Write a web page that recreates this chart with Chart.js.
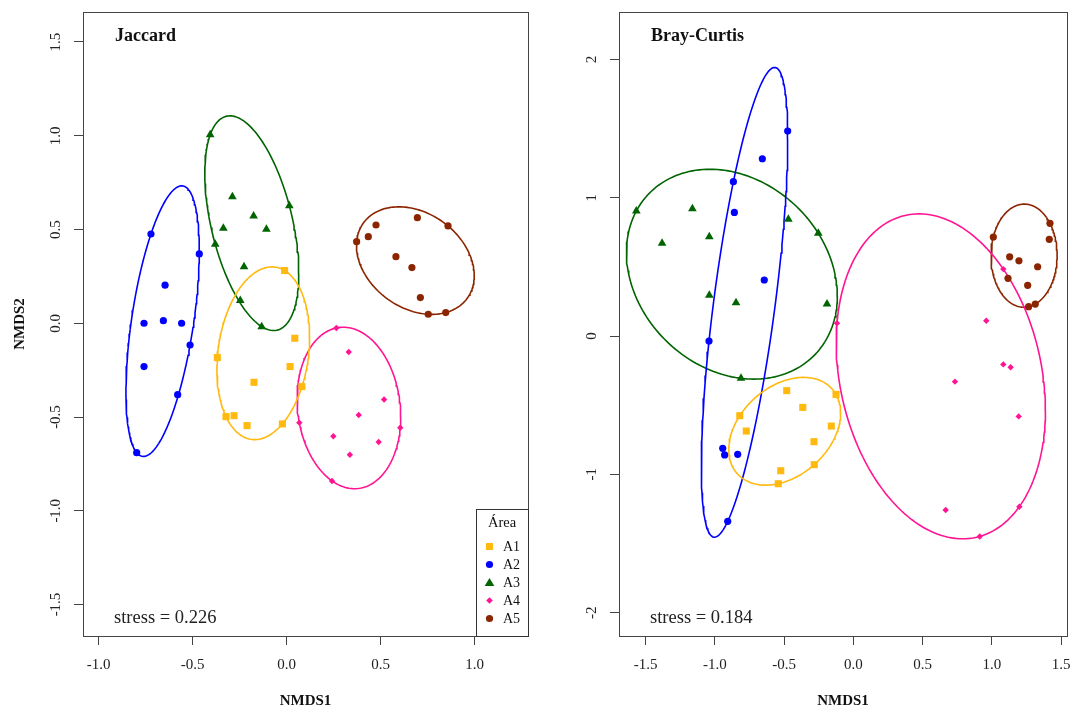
<!DOCTYPE html>
<html>
<head>
<meta charset="utf-8">
<script src="https://cdn.jsdelivr.net/npm/chart.js@4/dist/chart.umd.min.js"></script>
<style>
  body { margin: 0; background: #fff; }
  #wrap { position: relative; width: 1075px; height: 709px; }
  canvas { position: absolute; top: 0; }
  #left { left: 0; }
  #right { left: 540px; }
</style>
</head>
<body>
<div id="wrap">
  <canvas id="left" width="540" height="709"></canvas>
  <canvas id="right" width="535" height="709"></canvas>
</div>
<script>
// groups: [NMDS1, NMDS2]
const groups = ['A1', 'A2', 'A3', 'A4', 'A5'];
const groupColors = ['#FFB90F', '#0000FF', '#006400', '#FF1493', '#8B2500'];
const groupShapes = ['rect', 'circle', 'triangle', 'rectRot', 'circle'];

const jaccardA1 = [[-0.011,0.281],[0.043,-0.080],[-0.369,-0.183],[0.018,-0.231],[-0.174,-0.315],
                   [0.081,-0.338],[-0.323,-0.498],[-0.280,-0.493],[-0.211,-0.546],[-0.023,-0.537]];
const jaccardA2 = [[-0.722,0.476],[-0.465,0.370],[-0.647,0.203],[-0.759,0.000],[-0.656,0.014],
                   [-0.559,0.000],[-0.514,-0.116],[-0.759,-0.231],[-0.580,-0.381],[-0.798,-0.690]];
const jaccardA3 = [[-0.407,1.005],[-0.289,0.675],[-0.176,0.572],[-0.337,0.507],[-0.108,0.501],
                   [0.014,0.627],[-0.380,0.421],[-0.227,0.302],[-0.247,0.121],[-0.133,-0.018]];
const jaccardA4 = [[0.264,-0.025],[0.330,-0.153],[0.518,-0.407],[0.383,-0.489],[0.067,-0.530],
                   [0.604,-0.557],[0.248,-0.603],[0.489,-0.633],[0.336,-0.701],[0.241,-0.841]];
const jaccardA5 = [[0.372,0.435],[0.434,0.462],[0.475,0.524],[0.695,0.563],[0.858,0.519],
                   [0.581,0.355],[0.666,0.297],[0.711,0.137],[0.753,0.048],[0.846,0.057]];

const brayA1 = [[-0.481,-0.395],[-0.125,-0.422],[-0.365,-0.516],[-0.820,-0.576],[-0.773,-0.687],
                [-0.159,-0.651],[-0.284,-0.764],[-0.282,-0.930],[-0.524,-0.974],[-0.542,-1.068]];
const brayA2 = [[-0.474,1.482],[-0.657,1.282],[-0.866,1.116],[-0.859,0.894],[-0.643,0.405],
                [-1.042,-0.036],[-0.943,-0.812],[-0.929,-0.860],[-0.835,-0.855],[-0.907,-1.340]];
const brayA3 = [[-1.567,0.904],[-1.162,0.920],[-1.381,0.670],[-1.040,0.718],[-0.469,0.844],
                [-0.253,0.743],[-1.040,0.294],[-0.847,0.241],[-0.190,0.231],[-0.811,-0.306]];
const brayA4 = [[-0.118,0.092],[0.960,0.111],[1.083,0.484],[1.083,-0.205],[1.136,-0.226],
                [0.734,-0.330],[1.194,-0.581],[0.667,-1.258],[1.199,-1.234],[0.913,-1.449]];
const brayA5 = [[1.420,0.815],[1.011,0.716],[1.415,0.699],[1.129,0.573],[1.196,0.544],
                [1.331,0.501],[1.117,0.417],[1.259,0.367],[1.314,0.231],[1.266,0.212]];

const jaccardXTicks = [-1.0, -0.5, 0.0, 0.5, 1.0];
const jaccardYTicks = [-1.5, -1.0, -0.5, 0.0, 0.5, 1.0, 1.5];
const brayXTicks = [-1.5, -1.0, -0.5, 0.0, 0.5, 1.0, 1.5];
const brayYTicks = [-2, -1, 0, 1, 2];

const SERIF = '"Liberation Serif", "DejaVu Serif", serif';

function inv3(m) {
  const [a, b, c] = m[0], [d, e, f] = m[1], [g, h, i] = m[2];
  const A = e*i - f*h, B = -(d*i - f*g), C = d*h - e*g;
  const det = a*A + b*B + c*C;
  return [
    [A/det, -(b*i - c*h)/det, (b*f - c*e)/det],
    [B/det, (a*i - c*g)/det, -(a*f - c*d)/det],
    [C/det, -(a*h - b*g)/det, (a*e - b*d)/det]
  ];
}

// minimum volume enclosing ellipse (Khachiyan), like ordiellipse(kind = "ehull")
function ehull(pts) {
  const n = pts.length;
  let u = new Array(n).fill(1 / n);
  for (let it = 0; it < 20000; it++) {
    const X = [[0,0,0],[0,0,0],[0,0,0]];
    pts.forEach((p, k) => {
      const q = [p[0], p[1], 1];
      for (let a = 0; a < 3; a++) for (let b = 0; b < 3; b++) X[a][b] += u[k] * q[a] * q[b];
    });
    const Xi = inv3(X);
    let best = -1, j = 0;
    pts.forEach((p, k) => {
      const q = [p[0], p[1], 1];
      let m = 0;
      for (let a = 0; a < 3; a++) for (let b = 0; b < 3; b++) m += q[a] * Xi[a][b] * q[b];
      if (m > best) { best = m; j = k; }
    });
    const step = (best - 3) / (3 * (best - 1));
    if (step < 1e-10) break;
    u = u.map(v => v * (1 - step));
    u[j] += step;
  }
  let cx = 0, cy = 0;
  pts.forEach((p, k) => { cx += u[k] * p[0]; cy += u[k] * p[1]; });
  let sxx = 0, sxy = 0, syy = 0;
  pts.forEach((p, k) => {
    sxx += u[k] * (p[0] - cx) ** 2;
    sxy += u[k] * (p[0] - cx) * (p[1] - cy);
    syy += u[k] * (p[1] - cy) ** 2;
  });
  sxx *= 2; sxy *= 2; syy *= 2;
  const l11 = Math.sqrt(sxx), l21 = sxy / l11, l22 = Math.sqrt(syy - l21 * l21);
  const out = [];
  for (let s = 0; s <= 180; s++) {
    const t = s / 180 * 2 * Math.PI;
    out.push({ x: cx + l11 * Math.cos(t), y: cy + l21 * Math.cos(t) + l22 * Math.sin(t) });
  }
  return out;
}

function fmt1(v) { return v.toFixed(1); }
function fmt0(v) { return v.toFixed(0); }

function makeDatasets(sets) {
  const ds = [];
  sets.forEach((arr, i) => {
    ds.push({
      label: groups[i] + ' hull',
      data: ehull(arr),
      showLine: true,
      pointRadius: 0,
      borderColor: groupColors[i],
      borderWidth: 1.6,
      fill: false,
      order: 2
    });
  });
  sets.forEach((arr, i) => {
    const shape = groupShapes[i];
    ds.push({
      label: groups[i],
      data: arr.map(p => ({ x: p[0], y: p[1] })),
      pointStyle: shape,
      pointRadius: shape === 'rect' ? 5 : shape === 'triangle' ? 5 : shape === 'rectRot' ? 3.2 : 3.6,
      backgroundColor: groupColors[i],
      borderColor: groupColors[i],
      borderWidth: 0,
      order: 1
    });
  });
  return ds;
}

function drawShape(ctx, shape, x, y, color) {
  ctx.fillStyle = color;
  ctx.beginPath();
  if (shape === 'rect') ctx.rect(x - 3.5, y - 3.5, 7, 7);
  else if (shape === 'circle') ctx.arc(x, y, 3.6, 0, Math.PI * 2);
  else if (shape === 'triangle') { ctx.moveTo(x, y - 4.5); ctx.lineTo(x + 4.8, y + 3.5); ctx.lineTo(x - 4.8, y + 3.5); ctx.closePath(); }
  else { ctx.moveTo(x, y - 3.3); ctx.lineTo(x + 3.3, y); ctx.lineTo(x, y + 3.3); ctx.lineTo(x - 3.3, y); ctx.closePath(); }
  ctx.fill();
}

function rPlot(cfg) {
  return {
    id: 'rstyle',
    afterDraw(chart) {
      const ctx = chart.ctx, a = chart.chartArea;
      const xs = chart.scales.x, ys = chart.scales.y;
      ctx.save();
      ctx.strokeStyle = '#444';
      ctx.lineWidth = 1;
      ctx.strokeRect(Math.round(a.left) + 0.5, Math.round(a.top) + 0.5,
                     Math.round(a.right - a.left), Math.round(a.bottom - a.top));

      ctx.fillStyle = '#222';
      ctx.font = '15px ' + SERIF;
      ctx.textAlign = 'center';
      ctx.textBaseline = 'middle';
      cfg.xTicks.forEach(v => ctx.fillText(cfg.xFmt(v), xs.getPixelForValue(v), a.bottom + 29));
      cfg.yTicks.forEach(v => {
        ctx.save();
        ctx.translate(a.left - 27, ys.getPixelForValue(v));
        ctx.rotate(-Math.PI / 2);
        ctx.fillText(cfg.yFmt(v), 0, 0);
        ctx.restore();
      });

      ctx.font = 'bold 15px ' + SERIF;
      ctx.fillStyle = '#111';
      ctx.fillText('NMDS1', (a.left + a.right) / 2, chart.height - 8);
      if (cfg.yTitle) {
        ctx.save();
        ctx.translate(20, (a.top + a.bottom) / 2);
        ctx.rotate(-Math.PI / 2);
        ctx.fillText(cfg.yTitle, 0, 0);
        ctx.restore();
      }

      ctx.textAlign = 'left';
      ctx.textBaseline = 'alphabetic';
      ctx.font = 'bold 18px ' + SERIF;
      ctx.fillText(cfg.title, a.left + 32, a.top + 28.5);
      ctx.font = '18.5px ' + SERIF;
      ctx.fillStyle = '#222';
      ctx.fillText(cfg.stress, a.left + 31, a.bottom - 13.5);

      if (cfg.legend) {
        const bx = a.right - 52, by = a.bottom - 127;
        ctx.strokeStyle = '#333';
        ctx.strokeRect(Math.round(bx) + 0.5, Math.round(by) + 0.5, 52, 127);
        ctx.textBaseline = 'middle';
        ctx.textAlign = 'center';
        ctx.font = '14.5px ' + SERIF;
        ctx.fillStyle = '#111';
        ctx.fillText('Área', bx + 26, by + 14);
        ctx.textAlign = 'left';
        ctx.font = '14px ' + SERIF;
        groups.forEach((g, i) => {
          const yy = by + 37.5 + i * 18;
          drawShape(ctx, groupShapes[i], bx + 13.5, yy, groupColors[i]);
          ctx.fillStyle = '#111';
          ctx.fillText(g, bx + 27, yy + 1);
        });
      }
      ctx.restore();
    }
  };
}

function makeChart(id, sets, xr, yr, yWidth, rightPad, cfg) {
  const axis = (min, max, vals, pos) => ({
    type: 'linear',
    position: pos,
    min: min,
    max: max,
    afterBuildTicks: s => { s.ticks = vals.map(v => ({ value: v })); },
    afterFit: s => { if (pos === 'bottom') s.height = 73; else s.width = yWidth; },
    ticks: { display: false },
    grid: { display: true, drawOnChartArea: false, drawTicks: true, tickLength: 9, color: '#444', lineWidth: 1 },
    border: { display: false }
  });
  return new Chart(document.getElementById(id), {
    type: 'scatter',
    data: { datasets: makeDatasets(sets) },
    options: {
      responsive: false,
      animation: false,
      layout: { padding: { left: 0, right: rightPad, top: 12, bottom: 0 } },
      plugins: { legend: { display: false }, tooltip: { enabled: false } },
      scales: {
        x: axis(xr[0], xr[1], cfg.xTicks, 'bottom'),
        y: axis(yr[0], yr[1], cfg.yTicks, 'left')
      }
    },
    plugins: [rPlot(cfg)]
  });
}

makeChart('left', [jaccardA1, jaccardA2, jaccardA3, jaccardA4, jaccardA5],
  [-1.0835, 1.2835], [-1.668, 1.660], 83, 12,
  { xTicks: jaccardXTicks, yTicks: jaccardYTicks, xFmt: fmt1, yFmt: fmt1,
    title: 'Jaccard', stress: 'stress = 0.226', yTitle: 'NMDS2', legend: true });

makeChart('right', [brayA1, brayA2, brayA3, brayA4, brayA5],
  [-1.692, 1.543], [-2.169, 2.343], 79, 8,
  { xTicks: brayXTicks, yTicks: brayYTicks, xFmt: fmt1, yFmt: fmt0,
    title: 'Bray-Curtis', stress: 'stress = 0.184', yTitle: null, legend: false });
</script>
</body>
</html>
